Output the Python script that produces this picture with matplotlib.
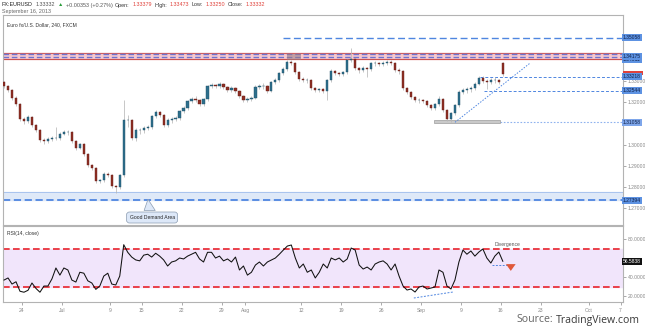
import numpy as np
import matplotlib
matplotlib.use("Agg")
import matplotlib.pyplot as plt
import matplotlib.transforms as mtransforms
from matplotlib.patches import Rectangle, Polygon

# ---------------- data ----------------
ref_day = "2013-06-24"          # trading-day index 0
first_bar_day = "2013-06-19"    # first (second half-day) bar
bars_per_day = 2
first_open = 1.3295
sep16_open = 1.3385

closes = [1.3276, 1.3257, 1.3220, 1.3191, 1.3120, 1.3111, 1.3130, 1.3092, 1.3068, 1.3021,
          1.3016, 1.3026, 1.3031, 1.3031, 1.3050, 1.3059, 1.3059, 1.3016, 1.2983, 1.3002,
          1.2955, 1.2903, 1.2889, 1.2828, 1.2832, 1.2861, 1.2856, 1.2804, 1.2799, 1.2856,
          1.3116, 1.3116, 1.3031, 1.3068, 1.3068, 1.3078, 1.3083, 1.3135, 1.3153, 1.3139,
          1.3092, 1.3116, 1.3120, 1.3125, 1.3158, 1.3172, 1.3205, 1.3215, 1.3210, 1.3191,
          1.3215, 1.3276, 1.3281, 1.3276, 1.3286, 1.3272, 1.3257, 1.3267, 1.3253, 1.3229,
          1.3210, 1.3215, 1.3220, 1.3272, 1.3276, 1.3276, 1.3253, 1.3295, 1.3305, 1.3338,
          1.3357, 1.3390, 1.3385, 1.3342, 1.3309, 1.3305, 1.3305, 1.3267, 1.3257, 1.3262,
          1.3253, 1.3305, 1.3347, 1.3338, 1.3333, 1.3342, 1.3399, 1.3404, 1.3361, 1.3352,
          1.3361, 1.3357, 1.3385, 1.3385, 1.3380, 1.3385, 1.3390, 1.3385, 1.3352, 1.3347,
          1.3267, 1.3248, 1.3224, 1.3210, 1.3210, 1.3205, 1.3187, 1.3172, 1.3191, 1.3215,
          1.3163, 1.3120, 1.3149, 1.3187, 1.3248, 1.3257, 1.3262, 1.3267, 1.3286, 1.3314,
          1.3300, 1.3295, 1.3305, 1.3305, 1.3298, 1.3333]
highs = [1.3302, 1.3284, 1.3262, 1.3228, 1.3196, 1.3131, 1.3142, 1.3137, 1.3099, 1.3074,
         1.3030, 1.3035, 1.3040, 1.3083, 1.3058, 1.3070, 1.3068, 1.3066, 1.3022, 1.3010,
         1.3008, 1.2960, 1.2910, 1.2895, 1.2840, 1.2870, 1.2872, 1.2862, 1.2812, 1.2864,
         1.3210, 1.3140, 1.3122, 1.3078, 1.3080, 1.3088, 1.3095, 1.3142, 1.3165, 1.3160,
         1.3145, 1.3124, 1.3130, 1.3134, 1.3165, 1.3182, 1.3212, 1.3225, 1.3230, 1.3216,
         1.3222, 1.3283, 1.3290, 1.3288, 1.3295, 1.3292, 1.3278, 1.3275, 1.3272, 1.3258,
         1.3234, 1.3224, 1.3228, 1.3280, 1.3288, 1.3290, 1.3282, 1.3302, 1.3314, 1.3345,
         1.3366, 1.3398, 1.3400, 1.3392, 1.3348, 1.3318, 1.3315, 1.3310, 1.3274, 1.3270,
         1.3268, 1.3312, 1.3356, 1.3352, 1.3345, 1.3350, 1.3406, 1.3456, 1.3410, 1.3366,
         1.3370, 1.3368, 1.3392, 1.3395, 1.3392, 1.3394, 1.3400, 1.3398, 1.3392, 1.3360,
         1.3352, 1.3272, 1.3252, 1.3230, 1.3220, 1.3218, 1.3210, 1.3192, 1.3198, 1.3232,
         1.3222, 1.3168, 1.3156, 1.3194, 1.3256, 1.3268, 1.3272, 1.3276, 1.3294, 1.3322,
         1.3326, 1.3310, 1.3316, 1.3320, 1.3312, 1.3392]
lows = [1.3268, 1.3249, 1.3211, 1.3183, 1.3112, 1.3098, 1.3104, 1.3085, 1.3060, 1.3012,
        1.3004, 1.3009, 1.3018, 1.3022, 1.3024, 1.3044, 1.3047, 1.3008, 1.2975, 1.2978,
        1.2946, 1.2895, 1.2880, 1.2820, 1.2818, 1.2826, 1.2848, 1.2796, 1.2771, 1.2790,
        1.2850, 1.3085, 1.3022, 1.3020, 1.3050, 1.3055, 1.3068, 1.3076, 1.3128, 1.3130,
        1.3085, 1.3082, 1.3105, 1.3110, 1.3118, 1.3150, 1.3165, 1.3198, 1.3200, 1.3183,
        1.3185, 1.3208, 1.3268, 1.3266, 1.3270, 1.3264, 1.3248, 1.3250, 1.3244, 1.3220,
        1.3201, 1.3200, 1.3205, 1.3214, 1.3264, 1.3262, 1.3244, 1.3248, 1.3288, 1.3298,
        1.3330, 1.3350, 1.3376, 1.3335, 1.3300, 1.3296, 1.3292, 1.3258, 1.3250, 1.3248,
        1.3244, 1.3210, 1.3298, 1.3330, 1.3324, 1.3326, 1.3336, 1.3392, 1.3354, 1.3340,
        1.3345, 1.3318, 1.3350, 1.3372, 1.3370, 1.3372, 1.3376, 1.3374, 1.3344, 1.3335,
        1.3258, 1.3240, 1.3215, 1.3200, 1.3198, 1.3195, 1.3178, 1.3164, 1.3166, 1.3185,
        1.3155, 1.3111, 1.3106, 1.3140, 1.3180, 1.3240, 1.3246, 1.3250, 1.3258, 1.3280,
        1.3292, 1.3265, 1.3286, 1.3290, 1.3288, 1.3325]
rsi = [36.8, 39, 32.6, 35, 25, 24, 26, 33.7, 28, 24,
       30.5, 30.5, 38, 49.5, 42, 49.5, 47.4, 36.8, 34.7, 45,
       44, 36, 33.7, 27, 30.5, 41, 44, 32.6, 31.6, 41,
       74, 66, 61, 58, 57, 63, 64, 61, 65, 62,
       58, 51.6, 55.8, 57, 60, 59, 62, 64, 66, 59,
       55.8, 66, 66, 60, 62, 57, 59, 55.8, 61, 47.4,
       51.6, 42, 45, 52.6, 55.8, 51.6, 55.8, 57.9, 60, 64,
       68.4, 72.6, 73.7, 60, 49.5, 53.7, 45, 47.4, 39, 45,
       53.7, 49.5, 60, 58, 60, 55.8, 59, 70.5, 68.4, 52.6,
       48.4, 50.5, 47.4, 53.7, 55.8, 57, 53.7, 47.4, 53.7, 41,
       30.5, 26.3, 27.4, 24.2, 29.5, 30.5, 27.4, 28.4, 29.5, 47.4,
       45, 30.5, 27.4, 36.8, 55.8, 68.4, 64, 67.4, 62, 66.3,
       69.5, 60, 54.7, 62, 66.3, 56.58]

tick_dates = ["2013-06-24", "2013-07-01", "2013-07-09", "2013-07-15", "2013-07-22",
              "2013-07-29", "2013-08-01", "2013-08-12", "2013-08-19", "2013-08-26",
              "2013-09-02", "2013-09-09", "2013-09-16", "2013-09-23", "2013-10-01",
              "2013-10-07"]
tick_labels = ["24", "Jul", "9", "15", "22", "29", "Aug", "12", "19", "26",
               "Sep", "9", "16", "23", "Oct", "7"]
price_ticks = [1.27, 1.28, 1.29, 1.30, 1.31, 1.32, 1.33, 1.34, 1.35]
price_tick_shown = [True, True, True, True, False, True, True, False, False]
rsi_ticks = [20, 40, 60, 80]
rsi_tick_shown = [True, True, False, True]

# drawn levels
resist_lo, resist_hi = 1.3403, 1.3433
resist_lines = [1.3427, 1.3414]
level_top = 1.35058
level_a = 1.33218
level_b = 1.32544
level_low = 1.31058
demand_lo, demand_hi = 1.27394, 1.2776
last_price = 1.33332
last_rsi = 56.5838

header = [("FX:EURUSD", "#222"), ("1.33332", "#555"), ("\u25b2", "#2a9d3a"),
          ("+0.00353 (+0.27%)", "#555"), ("Open:", "#333"), ("1.33379", "#e0433c"),
          ("High:", "#333"), ("1.33473", "#e0433c"), ("Low:", "#333"),
          ("1.33250", "#e0433c"), ("Close:", "#333"), ("1.33332", "#e0433c")]

# ---------------- layout ----------------
W, H = 645, 331
fig = plt.figure(figsize=(W / 100, H / 100), dpi=100)
fig.patch.set_facecolor("white")
ax = fig.add_axes([3 / W, 1 - 224.5 / H, 620 / W, 209.5 / H])
axr = fig.add_axes([3 / W, 1 - 302 / H, 620 / W, 76 / H], sharex=ax)

FS = 3.6
FONT = "Liberation Sans"
GRID = "#b3b3b3"

n = len(closes)
d0 = np.busday_count(ref_day, first_bar_day) + 0.75
x = d0 + np.arange(n) / bars_per_day
c = np.array(closes)
o = np.r_[first_open, c[:-1]]
o[-1] = sep16_open
h = np.array(highs)
l = np.array(lows)
up = c >= o

ax.vlines(x, l, h, color="#b8b8b8", lw=0.55, zorder=3)
body = np.maximum(np.abs(c - o), 0.00018)
bot = np.minimum(c, o)
ax.bar(x[up], body[up], bottom=bot[up], width=0.28, color="#2e6f8c",
       edgecolor="#1f5068", lw=0.3, zorder=4)
ax.bar(x[~up], body[~up], bottom=bot[~up], width=0.28, color="#8e2f24",
       edgecolor="#6a1f18", lw=0.3, zorder=4)

ax.set_xlim(-2.38, 75.31)
ax.set_ylim(1.2624, 1.3612)

# resistance band
ax.axhspan(resist_lo, resist_hi, color="#f7c9cf", zorder=1)
ax.axhline(resist_hi, color="#d0605e", lw=0.8, zorder=2)
ax.axhline(resist_lo, color="#c9524f", lw=0.8, zorder=2)
for yv in resist_lines:
    ax.axhline(yv, color="#6f74d0", lw=1.0, ls=(0, (4, 2)), zorder=2)
ax.add_patch(Rectangle((33.2, 1.3399), 1.8, 0.0028, fc="#9a7d82", alpha=0.55, ec="none", zorder=2))

# right-side levels
blue = "#4f86e0"
lblue = "#8fb2ee"
ax.hlines(level_top, 32.7, 75.31, color=blue, lw=1.0, ls=(0, (5, 2.5)), zorder=2)
ax.hlines(level_a, 57.4, 75.31, color=blue, lw=0.7, ls=(0, (3, 2)), zorder=2)
ax.hlines(level_b, 57.9, 75.31, color=blue, lw=0.7, ls=(0, (3, 2)), zorder=2)
ax.hlines(level_low, 59.9, 75.31, color=lblue, lw=0.8, ls=(0, (1.5, 1.5)), zorder=2)
ax.add_patch(Rectangle((51.6, 1.3101), 8.3, 0.0017, fc="#c9c9c9", ec="#9c9c9c", lw=0.5, zorder=2))
ax.plot([54.26, 63.66], [1.3106, 1.3385], color=blue, lw=0.7, ls=(0, (1.5, 1.5)), zorder=5)

# demand area
ax.axhspan(demand_lo, demand_hi, color="#dfe9f8", zorder=1)
ax.axhline(demand_hi, color="#a9c3ee", lw=0.7, zorder=2)
ax.axhline(demand_lo, color=blue, lw=1.3, ls=(0, (4, 2)), zorder=2)
ax.add_patch(Polygon([[15.3, 1.2690], [16.7, 1.2690], [15.79, 1.2743]], closed=True,
                     fc="#dde8f8", ec="#8a9bb0", lw=0.5, zorder=6))
ax.text(16.3, 1.2657, "Good Demand Area", fontsize=FS, family=FONT, color="#222",
        ha="center", va="center", zorder=7,
        bbox=dict(boxstyle="round,pad=0.6,rounding_size=0.6", fc="#dde8f8", ec="#8a9bb0", lw=0.5))

ax.text(0.006, 0.955, "Euro fx/U.S. Dollar, 240, FXCM", transform=ax.transAxes,
        fontsize=FS, family=FONT, color="#333", ha="left", va="center")

# axes styling
for a in (ax, axr):
    for s in a.spines.values():
        s.set_color(GRID)
        s.set_linewidth(0.8)
ax.tick_params(axis="x", which="both", bottom=False, labelbottom=False)
ax.yaxis.tick_right()
ax.set_yticks(price_ticks)
ax.set_yticklabels([f"{v:.5f}" if s else "" for v, s in zip(price_ticks, price_tick_shown)])
ax.tick_params(axis="y", labelsize=FS, colors="#888", length=2, pad=1.5, width=0.5)
for t in ax.get_yticklabels():
    t.set_family(FONT)

trans = mtransforms.blended_transform_factory(ax.transAxes, ax.transData)


def plabel(a, tr, y, text, bg, fg, z):
    a.text(1.0, y, text, transform=tr, ha="left", va="center", fontsize=FS, family=FONT,
           color=fg, clip_on=False, zorder=z,
           bbox=dict(boxstyle="square,pad=0.2", fc=bg, ec="none"))


plabel(ax, trans, level_top, "1.35058", "#5d92e2", "#10224a", 10)
plabel(ax, trans, 1.34011, "1.34011", "#5d92e2", "#10224a", 10)
plabel(ax, trans, 1.34175, "1.34175", "#5d92e2", "#10224a", 11)
# current-price marker: only a red strip peeks out above the 1.33218 label
ax.add_patch(Rectangle((1.0, last_price - 0.0004), 0.032, 0.0019, transform=trans,
                       fc="#e0433c", ec="none", clip_on=False, zorder=9))
plabel(ax, trans, level_a, "1.33218", "#5d92e2", "#10224a", 11)
plabel(ax, trans, level_b, "1.32544", "#5d92e2", "#10224a", 10)
plabel(ax, trans, level_low, "1.31058", "#7ea6ea", "#10224a", 10)
plabel(ax, trans, demand_lo, "1.27394", "#5d92e2", "#10224a", 10)

# ---------------- RSI panel ----------------
axr.axhspan(30, 70, color="#f1e5fb", zorder=1)
axr.axhline(70, color="#e8242c", lw=1.2, ls=(0, (4, 2)), zorder=2)
axr.axhline(30, color="#e8242c", lw=1.2, ls=(0, (4, 2)), zorder=2)
axr.plot(x, rsi, color="#111", lw=0.75, zorder=4)
axr.set_ylim(13.7, 93.7)
axr.plot([49.1, 54.0], [17.9, 24.2], color=blue, lw=0.7, ls=(0, (2, 1.5)), zorder=5)
axr.plot([58.9, 61.0], [52.6, 52.6], color=blue, lw=0.7, ls=(0, (2, 1.5)), zorder=5)
axr.annotate("", xy=(61.25, 43.5), xytext=(61.25, 52.5),
             arrowprops=dict(arrowstyle="simple,head_width=1.0,head_length=0.7,tail_width=0.5",
                             color="#e0583a", lw=0, mutation_scale=7), zorder=6)
axr.text(60.9, 74.7, "Divergence", fontsize=FS, family=FONT, color="#555",
         ha="center", va="center", zorder=6)
axr.text(0.006, 0.9, "RSI(14, close)", transform=axr.transAxes, fontsize=FS,
         family=FONT, color="#333", ha="left", va="center")

axr.yaxis.tick_right()
axr.set_yticks(rsi_ticks)
axr.set_yticklabels([f"{v:.4f}" if s else "" for v, s in zip(rsi_ticks, rsi_tick_shown)])
axr.tick_params(axis="y", labelsize=FS, colors="#888", length=2, pad=1.5, width=0.5)
tick_pos = [np.busday_count(ref_day, dd) for dd in tick_dates]
axr.set_xticks(tick_pos)
axr.set_xticklabels(tick_labels)
axr.tick_params(axis="x", labelsize=FS, colors="#888", length=2, pad=2, width=0.5)
for t in axr.get_yticklabels() + axr.get_xticklabels():
    t.set_family(FONT)
transr = mtransforms.blended_transform_factory(axr.transAxes, axr.transData)
plabel(axr, transr, last_rsi, f"{last_rsi:.4f}", "#111111", "white", 10)

# ---------------- header / footer ----------------
renderer = fig.canvas.get_renderer()
cur = 2.0
for txt, col in header:
    t = fig.text(cur / W, 1 - 5 / H, txt, fontsize=3.9, family=[FONT, "DejaVu Sans"],
                 color=col, ha="left", va="center")
    cur += t.get_window_extent(renderer).width + 2.6
fig.text(2 / W, 1 - 11.5 / H, "September 16, 2013", fontsize=3.9, family=FONT,
         color="#666", ha="left", va="center")

t1 = fig.text(516 / W, 1 - 320 / H, "Source:", fontsize=7.6, family="Open Sans",
              color="#666", ha="left", va="center")
w1 = t1.get_window_extent(renderer).width
fig.text((516 + w1 + 3) / W, 1 - 320 / H, "TradingView.com", fontsize=7.6,
         family="Open Sans", color="#3a3a3a", ha="left", va="center")

fig.savefig("out.png", dpi=100, facecolor="white")
